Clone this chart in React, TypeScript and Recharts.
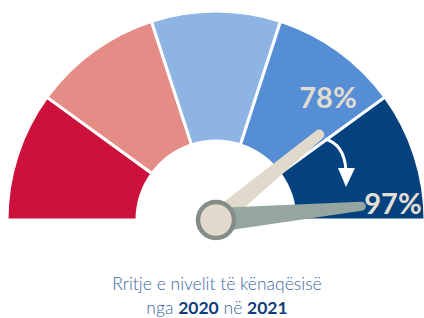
import { Cell, Pie, PieChart } from "recharts";

const bands = ["0-20", "20-40", "40-60", "60-80", "80-100"];
const bandValues = [20, 20, 20, 20, 20];
const bandColors = ["#CC113D", "#E48C85", "#8EB4E3", "#558ED5", "#03417F"];

const years = [2020, 2021];
const scores = [78, 97];
const needleColors = ["#E0D9CC", "#95A6A1"];

const bandData = bands.map((name, i) => ({ name, value: bandValues[i] }));

const CX = 216;
const CY = 220;
const START = 180;
const END = 0;

const angleOf = (v: number) => START + ((END - START) * v) / 100;

function Needle({ value, color, length, base, tip }: { value: number; color: string; length: number; base: number; tip: number }) {
  const a = (angleOf(value) * Math.PI) / 180;
  const ux = Math.cos(a);
  const uy = -Math.sin(a);
  const px = -uy;
  const py = ux;
  const tx = CX + ux * length;
  const ty = CY + uy * length;
  const d = [
    `M${CX + px * base},${CY + py * base}`,
    `L${tx + px * tip},${ty + py * tip}`,
    `A${tip},${tip} 0 0 0 ${tx - px * tip},${ty - py * tip}`,
    `L${CX - px * base},${CY - py * base}`,
    "Z",
  ].join(" ");
  return <path d={d} fill={color} />;
}

// drawn on top of the pie, the chart puts its own children under the sectors
function Overlay() {
  return (
    <svg width={424} height={318} style={{ position: "absolute", left: 0, top: 0, pointerEvents: "none" }}>
      <Needle value={scores[0]} color={needleColors[0]} length={134} base={9.5} tip={5} />
      <Needle value={scores[1]} color={needleColors[1]} length={146} base={12} tip={4.5} />
      <circle cx={CX} cy={CY} r={18} fill="#E0D9CC" stroke="#848C86" strokeWidth={4.5} />
      <text x={328} y={108} textAnchor="middle" fill="#E2DBCF" fontFamily="Lato" fontWeight={700} fontSize={29}>
        {scores[0]}%
      </text>
      <text x={393} y={214} textAnchor="middle" fill="#E4DFD4" fontFamily="Lato" fontWeight={700} fontSize={29}>
        {scores[1]}%
      </text>
      <path d="M325,139 Q344,144 346,170" fill="none" stroke="#fff" strokeWidth={3} />
      <path d="M338,168 L355,168 L346,187 Z" fill="#fff" />
      <text x={217} y={290} textAnchor="middle" fill="#3A67A3" fontFamily="Lato" fontWeight={300} fontSize={17.5}>
        Rritje e nivelit të kënaqësisë
      </text>
      <text x={217} y={314} textAnchor="middle" fill="#3A67A3" fontFamily="Lato" fontWeight={300} fontSize={17.5}>
        nga{" "}
        <tspan fontWeight={700} fill="#0E3D7A">{years[0]}</tspan> në{" "}
        <tspan fontWeight={700} fill="#0E3D7A">{years[1]}</tspan>
      </text>
    </svg>
  );
}

export default function App() {
  return (
    <div style={{ position: "absolute", left: 0, top: 0, width: 424, height: 318, background: "#fff" }}>
      <PieChart width={424} height={318} margin={{ top: 0, right: 0, bottom: 0, left: 0 }}>
        <Pie
          data={bandData}
          dataKey="value"
          nameKey="name"
          cx={CX}
          cy={CY}
          startAngle={START}
          endAngle={END}
          innerRadius={79}
          outerRadius={209}
          stroke="#fff"
          strokeWidth={3}
          isAnimationActive={false}
        >
          {bandData.map((b, i) => (
            <Cell key={b.name} fill={bandColors[i]} />
          ))}
        </Pie>
      </PieChart>
      <Overlay />
    </div>
  );
}
